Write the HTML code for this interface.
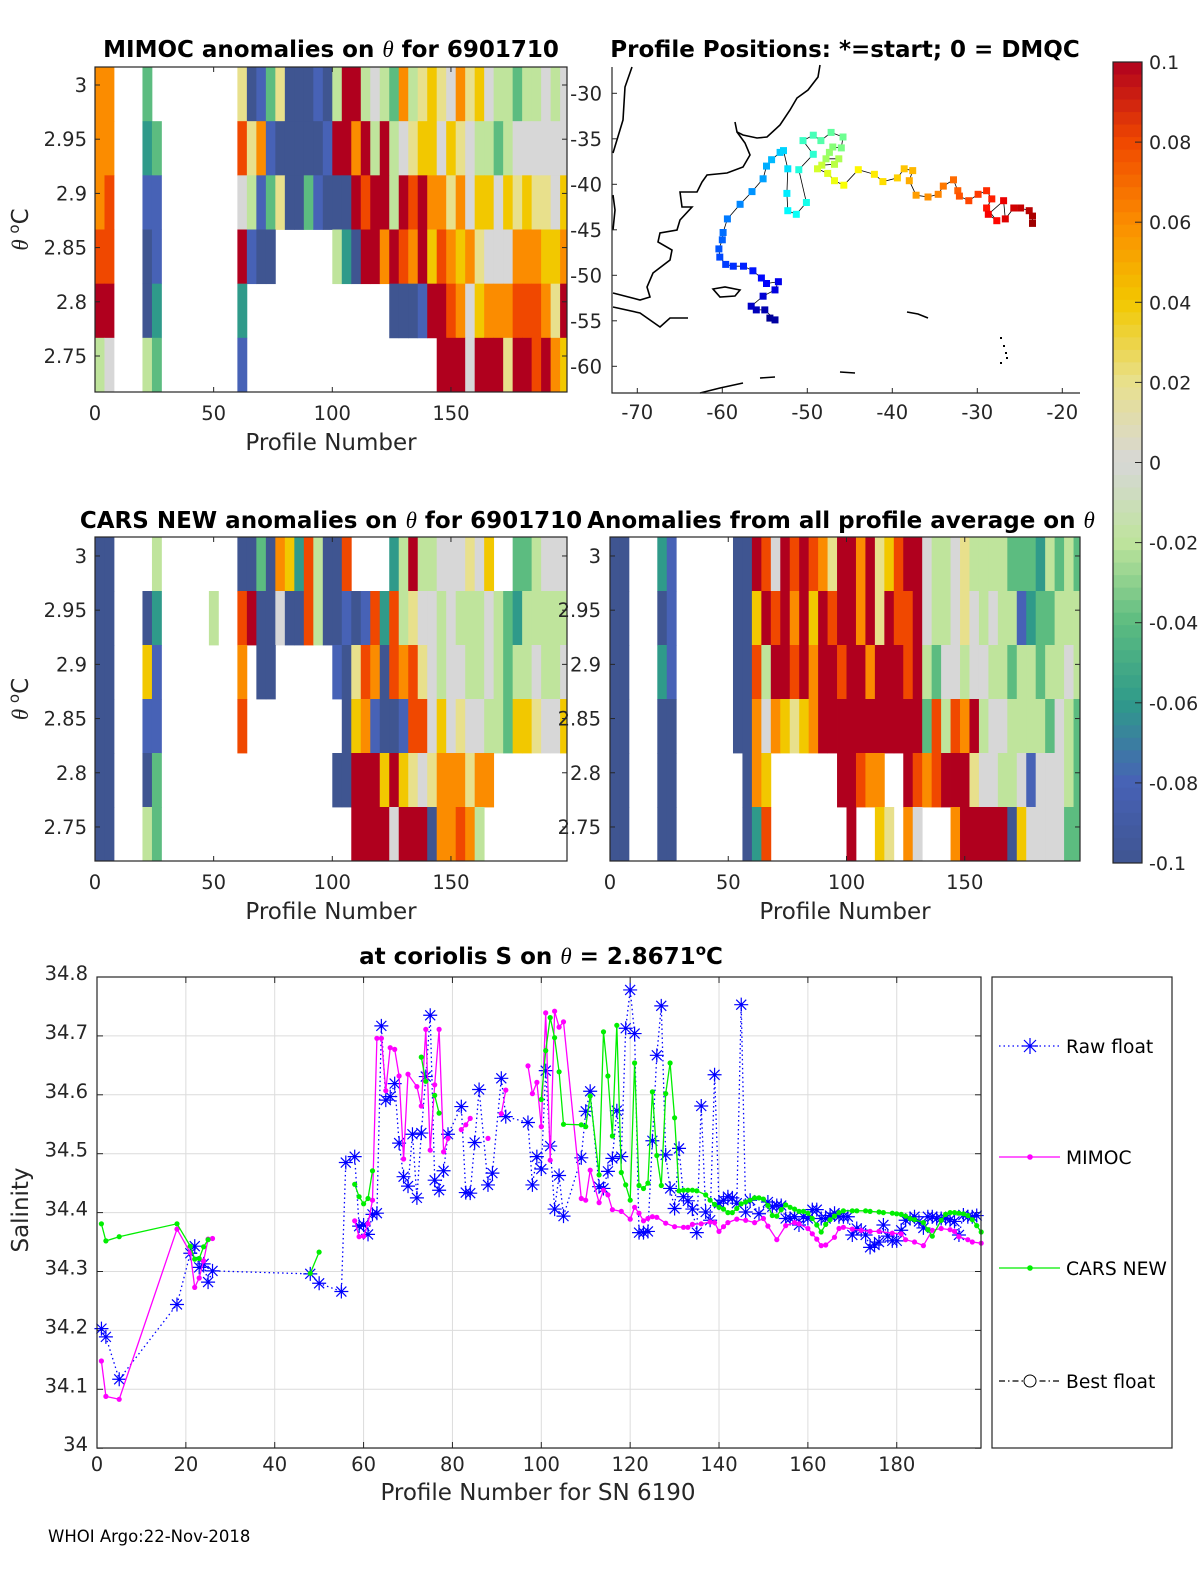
<!DOCTYPE html>
<html><head><meta charset="utf-8"><style>
html,body{margin:0;padding:0;background:#fff;}
svg{display:block;font-family:"DejaVu Sans","Liberation Sans",sans-serif;}
</style></head><body>
<svg id="fig" width="1200" height="1575" viewBox="0 0 1200 1575" xmlns="http://www.w3.org/2000/svg">
<rect width="1200" height="1575" fill="#fff"/>
<g id="tl"></g>
<g id="map"></g>
<g id="cb"></g>
<g id="ml"></g>
<g id="mr"></g>
<g id="bot"></g>
<g font-weight="bold" font-size="23" fill="#000" text-anchor="middle">
<text x="331" y="57">MIMOC anomalies on <tspan font-style="italic" font-weight="normal" font-family="Liberation Serif">θ</tspan>  for 6901710</text>
<text x="845" y="57">Profile Positions: *=start; 0 = DMQC</text>
<text x="331" y="528">CARS NEW anomalies on <tspan font-style="italic" font-weight="normal" font-family="Liberation Serif">θ</tspan> for 6901710</text>
<text x="841" y="528">Anomalies from all profile average on <tspan font-style="italic" font-weight="normal" font-family="Liberation Serif">θ</tspan></text>
<text x="541" y="964">at coriolis S on <tspan font-style="italic" font-weight="normal" font-family="Liberation Serif">θ</tspan> = 2.8671<tspan font-size="15" dy="-9">o</tspan><tspan dy="9">C</tspan></text>
</g>
<text x="48" y="1542" font-size="16.5">WHOI Argo:22-Nov-2018</text>
</svg>
<script>
// ---------- data ----------
const colorCodes = "ABCDEFGHIJK";
const colorHex = ["#3f5591","#4762b6","#2f9a8a","#5cbc80","#bfe49c","#d7d7d7","#e8e08c","#f2c800","#fb8c00","#f04800","#b0001e"];
const thetaTicks = [3, 2.95, 2.9, 2.85, 2.8, 2.75];
const profileTicks = [0, 50, 100, 150];
const mimocRows = [
 "II...D.........GABDGAAABAEKKEFEDIEGHGFIGHFEEDEEFEF",
 "II...CD........JGIBAAAAABKKIKEKEFGHHFHGFEEDEFFFFFF",
 "IJ...BB........FEBDGAADBAAAKJKKEKJKIIGIFHHFHGHGGFH",
 "JJ...AB........KBAA......ECAKKIKJIKHJIHIGFFFIIIHHI",
 "KK...AC........C...............AAABKKJIFHIIIJJJIGK",
 "EF...ED........B....................KKKFKKKGKKJKIH"];
const carsRows = [
 "AA....E........AADAIHCJEAAJ....CEKEEFFFGFH..DDEFFF",
 "AA...AC.....E..JKAAFAAJEAABABJCJEGFFEFEEEFEDCEEEEE",
 "AA...HB........I.AA......BAGJIAJIJGFEFFEEFEDEEFEEF",
 "AA...BB........J..........AHIBAABJJFHFGFFEEDHHGFFH",
 "AA...AD..................AAKKKHKHGFGIIIGII",
 "AA...ED....................KKKKFKKKAIIJIE"];
const avgRows = [
 "AA...CB......AAKJFKJKJIGKKIKGHJKKFEEFGEEEEDDDCEDED",
 "AA...AB......AAHKJKIKHKJKKIKGKJJKFEEFGFEFEEBCDDEEE",
 "AA...CB......AAJEKKJKIKKJKKIKKKJKEDFFEFFEEDEEDEEFE",
 "AA...AA......AAIFIHGHIKKKKKKKKKKKDJEJIKEFFEEEEDFED",
 "AA...AA.......AIH.......KKJII..KJIJKKKGFFEEFBFFFED",
 "AA...AA.......ACJ........K..HG.IF...IKKKKKAHFFFFDD"];
const mapLonTicks = [-70,-60,-50,-40,-30,-20];
const mapLatTicks = [-30,-35,-40,-45,-50,-55,-60];
const trackLon = [-54.4,-53.8,-55.0,-56.0,-56.6,-55.2,-53.8,-53.4,-54.8,-55.4,-56.4,-57.5,-58.7,-59.6,-60.3,-60.4,-60.0,-59.9,-59.4,-57.9,-56.5,-55.2,-54.8,-54.2,-53.2,-52.8,-52.3,-52.4,-52.3,-51.3,-50.1,-51.0,-49.3,-50.5,-49.3,-48.4,-47.2,-45.8,-46.0,-47.0,-47.4,-47.8,-46.3,-46.8,-48.3,-48.8,-47.6,-46.8,-45.7,-44.0,-42.1,-41.1,-39.4,-38.6,-37.6,-38.0,-37.2,-35.8,-34.6,-34.0,-32.8,-32.3,-32.1,-31.0,-29.9,-28.9,-28.3,-28.9,-27.7,-28.7,-26.9,-26.7,-25.7,-24.9,-23.9,-23.5,-23.5];
const trackLat = [-54.7,-54.9,-53.8,-53.8,-53.4,-52.3,-51.6,-50.7,-50.9,-50.3,-49.5,-49.0,-49.0,-48.8,-48.0,-47.1,-46.1,-45.3,-43.8,-42.2,-40.8,-39.4,-38.0,-37.3,-36.5,-36.3,-38.3,-41.0,-42.9,-43.3,-42.0,-38.4,-36.7,-35.2,-34.6,-35.2,-34.3,-34.8,-36.0,-35.9,-36.5,-37.2,-37.2,-37.8,-37.9,-38.3,-38.8,-39.6,-40.1,-38.4,-38.9,-39.7,-39.3,-38.3,-38.5,-39.6,-41.2,-41.4,-41.1,-40.2,-39.5,-40.7,-41.3,-41.8,-41.1,-40.7,-41.6,-42.6,-44.0,-43.3,-41.8,-43.8,-42.6,-42.6,-42.9,-43.5,-44.3];
const cbTicks = [0.1,0.08,0.06,0.04,0.02,0,-0.02,-0.04,-0.06,-0.08,-0.1];
const cbLabels = ["0.1","0.08","0.06","0.04","0.02","0","-0.02","-0.04","-0.06","-0.08","-0.1"];
const salTicks = [34,34.1,34.2,34.3,34.4,34.5,34.6,34.7,34.8];
const salLabels = ["34","34.1","34.2","34.3","34.4","34.5","34.6","34.7","34.8"];
const salXTicks = [0,20,40,60,80,100,120,140,160,180];
const rawP = [1,2,5,18,21,22,23,24,25,26,48,50,55,56,58,59,60,61,62,63,64,65,66,67,68,69,70,71,72,73,74,75,76,77,78,79,82,83,84,85,86,88,89,91,92,97,98,99,100,101,102,103,104,105,109,110,111,113,114,115,116,117,118,119,120,121,122,123,124,125,126,127,128,129,130,131,132,133,134,135,136,137,138,139,140,141,142,143,144,145,146,147,149,151,152,153,154,155,156,157,158,159,160,161,162,163,164,165,166,167,168,169,170,171,172,173,174,175,176,177,178,179,180,181,182,183,184,185,186,187,188,189,190,191,192,193,194,195,196,197,198];
const rawS = [34.203,34.189,34.117,34.244,34.331,34.343,34.307,34.313,34.282,34.301,34.296,34.280,34.266,34.485,34.495,34.377,34.379,34.363,34.397,34.399,34.717,34.591,34.597,34.619,34.518,34.461,34.445,34.533,34.425,34.535,34.631,34.735,34.455,34.438,34.471,34.533,34.580,34.434,34.433,34.519,34.609,34.447,34.467,34.628,34.563,34.553,34.447,34.495,34.474,34.641,34.513,34.406,34.463,34.394,34.493,34.572,34.606,34.444,34.441,34.470,34.492,34.573,34.495,34.713,34.778,34.704,34.366,34.366,34.368,34.522,34.667,34.751,34.498,34.441,34.407,34.509,34.427,34.420,34.406,34.366,34.581,34.401,34.387,34.634,34.416,34.421,34.427,34.425,34.416,34.753,34.401,34.421,34.398,34.418,34.410,34.412,34.412,34.390,34.390,34.393,34.379,34.393,34.390,34.405,34.405,34.390,34.390,34.395,34.399,34.393,34.393,34.393,34.362,34.373,34.370,34.362,34.341,34.345,34.350,34.379,34.360,34.352,34.352,34.370,34.387,34.390,34.393,34.385,34.374,34.393,34.393,34.390,34.390,34.390,34.388,34.385,34.362,34.396,34.393,34.393,34.395];
const mimocP = [1,2,5,18,21,22,23,24,25,26,null,58,59,60,61,62,63,64,65,66,67,68,69,70,72,73,74,75,76,77,78,79,null,82,83,84,null,88,null,91,92,null,97,98,99,100,101,102,103,104,105,109,110,111,113,114,115,116,118,120,121,122,123,124,125,126,128,130,132,133,134,136,138,139,140,141,142,144,146,148,150,151,153,155,157,158,160,161,162,163,164,166,167,168,170,172,174,176,179,181,182,184,186,188,190,192,193,194,196,197,199];
const mimocS = [34.148,34.088,34.083,34.372,34.332,34.273,34.289,34.318,34.355,34.356,null,34.386,34.359,34.360,34.381,34.421,34.696,34.696,34.607,34.680,34.677,34.632,34.491,34.635,34.614,34.581,34.711,34.506,34.617,34.711,34.503,34.526,null,34.541,34.549,34.560,null,34.526,null,34.568,34.608,null,34.649,34.602,34.621,34.546,34.739,34.489,34.742,34.715,34.724,34.424,34.421,34.472,34.417,34.438,34.430,34.405,34.402,34.389,34.409,34.399,34.386,34.390,34.393,34.392,34.382,34.376,34.375,34.375,34.380,34.381,34.384,34.383,34.368,34.376,34.383,34.389,34.387,34.383,34.390,34.377,34.354,34.378,34.383,34.381,34.373,34.364,34.355,34.344,34.345,34.358,34.373,34.375,34.372,34.370,34.368,34.368,34.365,34.364,34.354,34.350,34.344,34.370,34.373,34.371,34.368,34.359,34.354,34.350,34.348];
const carsP = [1,2,5,18,21,22,23,24,25,null,48,50,null,58,59,60,61,62,null,73,74,null,76,77,null,100,101,102,103,104,105,109,110,111,113,114,115,116,117,118,119,120,121,122,123,124,125,126,127,128,129,130,131,132,133,134,135,137,138,139,140,141,142,143,144,145,146,147,148,149,150,151,152,153,154,155,156,157,158,159,160,161,162,163,164,165,166,167,168,170,171,173,174,176,177,179,180,181,182,183,184,186,187,188,190,191,192,193,194,195,196,197,198,199];
const carsS = [34.381,34.352,34.359,34.381,34.343,34.321,34.322,34.342,34.354,null,34.297,34.333,null,34.448,34.427,34.415,34.424,34.471,null,34.664,34.623,null,34.599,34.569,null,34.592,34.675,34.731,34.697,34.639,34.550,34.549,34.546,34.598,34.464,34.707,34.632,34.530,34.718,34.468,34.447,34.421,34.654,34.446,34.441,34.450,34.605,34.497,34.446,34.602,34.654,34.561,34.437,34.438,34.438,34.438,34.437,34.430,34.421,34.414,34.409,34.406,34.400,34.400,34.407,34.415,34.418,34.421,34.425,34.425,34.423,34.412,34.395,34.394,34.405,34.413,34.409,34.406,34.402,34.402,34.399,34.390,34.379,34.367,34.380,34.388,34.394,34.400,34.403,34.403,34.403,34.403,34.402,34.401,34.400,34.399,34.398,34.397,34.394,34.390,34.388,34.383,34.371,34.360,34.387,34.397,34.400,34.400,34.399,34.398,34.395,34.388,34.378,34.367,34.362,34.360];

// ---------- helpers ----------
const NS = "http://www.w3.org/2000/svg";
function mk(parent, tag, attrs, text){
  const e = document.createElementNS(NS, tag);
  for (const k in attrs) e.setAttribute(k, attrs[k]);
  if (text !== undefined) e.textContent = text;
  parent.appendChild(e);
  return e;
}
function lerp(a,b,t){return a+(b-a)*t;}
function hexToRgb(h){return [parseInt(h.substr(1,2),16),parseInt(h.substr(3,2),16),parseInt(h.substr(5,2),16)];}
function cmap(v){
  let f = (v+0.1)/0.2*10; f=Math.max(0,Math.min(10,f));
  const i=Math.min(9,Math.floor(f)), t=f-i;
  const a=hexToRgb(colorHex[i]), b=hexToRgb(colorHex[i+1]);
  return "rgb("+Math.round(lerp(a[0],b[0],t))+","+Math.round(lerp(a[1],b[1],t))+","+Math.round(lerp(a[2],b[2],t))+")";
}
function jet(t){
  const r=Math.max(0,Math.min(1,1.5-Math.abs(4*t-3)));
  const g=Math.max(0,Math.min(1,1.5-Math.abs(4*t-2)));
  const b=Math.max(0,Math.min(1,1.5-Math.abs(4*t-1)));
  return "rgb("+Math.round(r*255)+","+Math.round(g*255)+","+Math.round(b*255)+")";
}

// ---------- heatmap panels ----------
function heatPanel(gid, rows, x0, sx, top, bot, right, thetaTop, showYLabels, ylabelX){
  const g = document.getElementById(gid);
  const xS = p => x0 + p*sx;
  const yS = th => top + (thetaTop - th)*1084;
  const bandH = (bot-top)/rows.length;
  rows.forEach((row, r) => {
    for (let c=0;c<50;c++){
      const ch = row[c] || ".";
      if (ch === ".") continue;
      const idx = colorCodes.indexOf(ch);
      const cell = mk(g,"rect",{x:xS(c*4).toFixed(2), y:(top+r*bandH).toFixed(2), width:(Math.min(4*sx+0.4, right-xS(c*4))).toFixed(2), height:(bandH+0.4).toFixed(2), fill:colorHex[idx]});
      
      
    }
  });
  const frame = mk(g,"rect",{x:x0,y:top,width:right-x0,height:bot-top,fill:"none",stroke:"#262626","stroke-width":1.2});
  
  
  thetaTicks.forEach(t=>{
    const y=yS(t);
    mk(g,"line",{x1:x0,y1:y,x2:x0+5,y2:y,stroke:"#262626"});
    mk(g,"line",{x1:right,y1:y,x2:right-5,y2:y,stroke:"#262626"});
    const lb = mk(g,"text",{x:ylabelX,y:y+7,"font-size":19.5,"text-anchor":"end",fill:"#262626"}, String(t));
    
    
  });
  profileTicks.forEach(p=>{
    const x=xS(p);
    mk(g,"line",{x1:x,y1:bot,x2:x,y2:bot-5,stroke:"#262626"});
    mk(g,"line",{x1:x,y1:top,x2:x,y2:top+5,stroke:"#262626"});
    const lb = mk(g,"text",{x:x,y:bot+28,"font-size":19.5,"text-anchor":"middle",fill:"#262626"}, String(p));
    
    
  });
  const xl = mk(g,"text",{x:(x0+right)/2,y:bot+58,"font-size":23,"text-anchor":"middle",fill:"#262626"},"Profile Number");
  
  
  if (showYLabels){
    const cy=(top+bot)/2, tx=28;
    const yl = mk(g,"text",{x:tx,y:cy,"font-size":23,"text-anchor":"middle",fill:"#262626",transform:"rotate(-90 "+tx+" "+cy+")"});
    
    
    const t1=document.createElementNS(NS,"tspan"); t1.setAttribute("font-style","italic"); t1.setAttribute("font-family","Liberation Serif"); t1.textContent="θ "; yl.appendChild(t1);
    const t2=document.createElementNS(NS,"tspan"); t2.setAttribute("font-size","15"); t2.setAttribute("dy","-9"); t2.textContent="o"; yl.appendChild(t2);
    const t3=document.createElementNS(NS,"tspan"); t3.setAttribute("dy","9"); t3.textContent="C"; yl.appendChild(t3);
  }
}
heatPanel("tl", mimocRows, 95, 2.373, 67, 392, 567, 3.0166, true, 87);
heatPanel("ml", carsRows, 95, 2.373, 537, 861, 567, 3.0175, true, 87);
heatPanel("mr", avgRows, 610, 2.365, 537, 861, 1080, 3.0175, false, 601);

// ---------- map ----------
(function(){
  const g=document.getElementById("map");
  const L=612,R=1080,T=67,B=393;
  const lonX = lon => 637.3 + (lon+70)*8.5;
  const latY = lat => 93.3 + (-30-lat)*9.1;
  const coast = [
   "M820,65 L818,77 L808,90 L797,98 L790,110 L780,125 L767,137 L757,138 L743,135 L737,132 L735,122",
   "M737,132 L745,143 L750,155 L743,167 L727,173 L707,175 L702,182 L697,192 L680,192 L682,207 L692,207 L680,220 L677,230 L660,233 L658,242 L672,250 L670,260 L653,273 L647,287 L650,297 L640,300 L613,293",
   "M613,307 L640,313 L660,327 L670,318 L688,318",
   "M632,67 L625,87 L623,120 L613,153",
   "M613,195 L615,210 L613,230",
   "M713,289 L725,287 L740,290 L735,296 L720,297 Z",
   "M907,312 L918,314 L928,318",
   "M700,393 L720,388 L743,383","M760,378 L775,377","M840,372 L855,373"];
  coast.forEach(d=>{
    const p=mk(g,"path",{d:d,fill:"none",stroke:"#000","stroke-width":1.6});
    
    
  });
  [[1000,337],[1003,345],[1005,352],[1006,357],[1000,362]].forEach(q=>mk(g,"rect",{x:q[0],y:q[1],width:2,height:2,fill:"#000"}));
  const pts = trackLon.map((lon,i)=>lonX(lon).toFixed(1)+","+latY(trackLat[i]).toFixed(1)).join(" ");
  const tl = mk(g,"polyline",{points:pts,fill:"none",stroke:"#000","stroke-width":0.8});
  
  
  trackLon.forEach((lon,i)=>{
    const t=i/(trackLon.length-1);
    const m=mk(g,"rect",{x:(lonX(lon)-3.5).toFixed(1),y:(latY(trackLat[i])-3.5).toFixed(1),width:7,height:7,fill:jet(t*0.95+0.02)});
    
    
  });
  const f=mk(g,"path",{d:"M"+L+","+T+" L"+L+","+B+" L"+R+","+B,fill:"none",stroke:"#262626","stroke-width":1.2});
  
  
  mapLonTicks.forEach(lon=>{
    const x=lonX(lon);
    mk(g,"line",{x1:x,y1:B,x2:x,y2:B-5,stroke:"#262626"});
    const lb=mk(g,"text",{x:x,y:B+26,"font-size":19.5,"text-anchor":"middle",fill:"#262626"},String(lon));
    
    
  });
  mapLatTicks.forEach(lat=>{
    const y=latY(lat);
    mk(g,"line",{x1:L,y1:y,x2:L+5,y2:y,stroke:"#262626"});
    const lb=mk(g,"text",{x:L-10,y:y+7,"font-size":19.5,"text-anchor":"end",fill:"#262626"},String(lat));
    
    
  });
})();

// ---------- colorbar ----------
(function(){
  const g=document.getElementById("cb");
  const L=1113,W=29,T=62,B=863;
  const vY = v => T + (0.1-v)/0.2*(B-T);
  for (let i=0;i<64;i++){
    const v0=0.1-i*0.2/64, v1=v0-0.2/64;
    const s=mk(g,"rect",{x:L,y:vY(v0).toFixed(2),width:W,height:(vY(v1)-vY(v0)+0.5).toFixed(2),fill:cmap((v0+v1)/2)});
    
    
  }
  mk(g,"rect",{x:L,y:T,width:W,height:B-T,fill:"none",stroke:"#262626","stroke-width":1.2});
  cbTicks.forEach((v,i)=>{
    const y=vY(v);
    mk(g,"line",{x1:L+W,y1:y,x2:L+W-7,y2:y,stroke:"#262626"});
    const lb=mk(g,"text",{x:1149,y:y+7,"font-size":19,fill:"#262626"},cbLabels[i]);
    
    
  });
})();

// ---------- salinity chart ----------
(function(){
  const g=document.getElementById("bot");
  const L=97,R=981,T=977,B=1448;
  const xS = p => L + p*4.443;
  const yS = s => T + (34.8-s)*589;
  salXTicks.forEach(p=>{
    const x=xS(p);
    mk(g,"line",{x1:x,y1:T,x2:x,y2:B,stroke:"#dcdcdc","stroke-width":1});
    mk(g,"line",{x1:x,y1:B,x2:x,y2:B-6,stroke:"#262626"});
    mk(g,"line",{x1:x,y1:T,x2:x,y2:T+6,stroke:"#262626"});
    const lb=mk(g,"text",{x:x,y:B+23,"font-size":19.5,"text-anchor":"middle",fill:"#262626"},String(p));
    
    
  });
  salTicks.forEach((s,i)=>{
    const y=yS(s);
    mk(g,"line",{x1:L,y1:y,x2:R,y2:y,stroke:"#dcdcdc","stroke-width":1});
    mk(g,"line",{x1:L,y1:y,x2:L+6,y2:y,stroke:"#262626"});
    mk(g,"line",{x1:R,y1:y,x2:R-6,y2:y,stroke:"#262626"});
    const lb=mk(g,"text",{x:L-9,y:y+3,"font-size":19.5,"text-anchor":"end",fill:"#262626"},salLabels[i]);
    
    
  });
  function segs(P,S){
    const out=[];let cur=[];
    P.forEach((p,i)=>{ if(p===null||S[i]===null){ if(cur.length) out.push(cur); cur=[]; } else cur.push([xS(p),yS(S[i])]); });
    if(cur.length) out.push(cur); return out;
  }
  const raw = mk(g,"g",{});
  
  
  segs(rawP,rawS).forEach(sg=>mk(raw,"polyline",{points:sg.map(q=>q[0].toFixed(1)+","+q[1].toFixed(1)).join(" "),fill:"none",stroke:"#0000ff","stroke-width":1.3,"stroke-dasharray":"1.5,3"}));
  rawP.forEach((p,i)=>{
    const x=xS(p),y=yS(rawS[i]),r=7;
    const st=mk(raw,"path",{d:`M${x-r},${y} L${x+r},${y} M${x},${y-r} L${x},${y+r} M${x-5},${y-5} L${x+5},${y+5} M${x-5},${y+5} L${x+5},${y-5}`,stroke:"#0000ff","stroke-width":1.2,fill:"none"});
    
    
  });
  function lineSeries(P,S,color,name){
    const sg=mk(g,"g",{});
    
    
    segs(P,S).forEach(s=>mk(sg,"polyline",{points:s.map(q=>q[0].toFixed(1)+","+q[1].toFixed(1)).join(" "),fill:"none",stroke:color,"stroke-width":1.3}));
    P.forEach((p,i)=>{ if(p===null) return;
      const d=mk(sg,"circle",{cx:xS(p).toFixed(1),cy:yS(S[i]).toFixed(1),r:2.6,fill:color});
      
      
    });
  }
  lineSeries(mimocP,mimocS,"#ff00ff","mimoc-series");
  lineSeries(carsP,carsS,"#00ee00","cars-series");
  mk(g,"rect",{x:L,y:T,width:R-L,height:B-T,fill:"none",stroke:"#262626","stroke-width":1.2});
  const xl=mk(g,"text",{x:(L+R)/2-1,y:1500,"font-size":23,"text-anchor":"middle",fill:"#262626"},"Profile Number for SN 6190");
  
  
  const yl=mk(g,"text",{x:28,y:1210,"font-size":23,"text-anchor":"middle",fill:"#262626",transform:"rotate(-90 28 1210)"},"Salinity");
  
  
  const lg=mk(g,"g",{});
  
  
  mk(lg,"rect",{x:992,y:T,width:180,height:B-T,fill:"#fff",stroke:"#262626","stroke-width":1.2});
  const ly=[1046,1157,1268,1381];
  const lt=["Raw float","MIMOC","CARS NEW","Best float"];
  const lc=["#0000ff","#ff00ff","#00ee00","#000"];
  const ld=["1.5,3",null,null,"6,3,1.5,3"];
  ly.forEach((y,i)=>{
    const a={x1:999,y1:y,x2:1060,y2:y,stroke:lc[i],"stroke-width":1.2};
    if(ld[i]) a["stroke-dasharray"]=ld[i];
    mk(lg,"line",a);
    if(i===0) mk(lg,"path",{d:`M1022,${y} L1038,${y} M1030,${y-8} L1030,${y+8} M1024,${y-6} L1036,${y+6} M1024,${y+6} L1036,${y-6}`,stroke:"#0000ff","stroke-width":1.2});
    if(i===1||i===2) mk(lg,"circle",{cx:1030,cy:y,r:2.8,fill:lc[i]});
    if(i===3) mk(lg,"circle",{cx:1030,cy:y,r:6,fill:"#fff",stroke:"#000","stroke-width":1});
    const t=mk(lg,"text",{x:1066,y:y+7,"font-size":18.7,fill:"#000"},lt[i]);
    
    
  });
})();
</script>
</body></html>
